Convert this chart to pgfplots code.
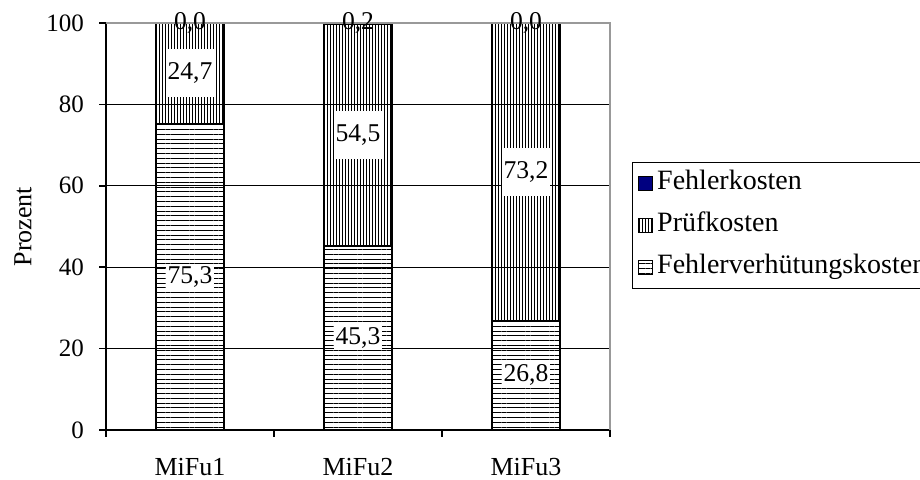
\documentclass[border=0pt]{standalone}
\usepackage{fontspec}
\setmainfont{Liberation Serif}
\usepackage{pgfplots}
\pgfplotsset{compat=1.18}
\usepackage{pgfplotstable}
\usetikzlibrary{patterns.meta}

\pgfplotstableread{
x vh
0 75.3
1 45.3
2 26.8
}\tabVerh
\pgfplotstableread{
x pr
0 24.7
1 54.5
2 73.2
}\tabPruef
\pgfplotstableread{
x fk
0 0.0
1 0.2
2 0.0
}\tabFehler
\pgfplotstableread{
x y label
0 87.65 24,7
1 72.55 54,5
2 63.4 73,2
}\tabLabTall
\pgfplotstableread{
x y label
0 37.65 75,3
1 22.65 45,3
2 13.4 26,8
}\tabLabShort
\pgfplotstableread{
x y label
0 100 0,0
1 100 0,2
2 100 0,0
}\tabLabZero

\definecolor{fknavy}{RGB}{0,0,128}
\tikzset{
  hpat/.style={pattern={Lines[angle=0,distance=2.4pt,line width=0.5pt]},pattern color=black},
  vpat/.style={pattern={Lines[angle=90,distance=1.5pt,line width=0.45pt]},pattern color=black},
}
\pgfplotsset{
  mylegend/.style={legend image code/.code={\draw[##1,draw=black,line width=0.6pt] (0pt,-3.6pt) rectangle (7.2pt,3.6pt);}},
  commonaxis/.style={
    at={(53pt,25pt)}, anchor=south west,
    scale only axis, width=252pt, height=203.5pt,
    xmin=-0.5, xmax=2.5, ymin=0, ymax=100,
  },
}

\begin{document}
\begin{tikzpicture}
\begin{scope}
\clip (0,0) rectangle (460pt,240pt);
\begin{axis}[
  commonaxis,
  ybar stacked, bar width=34pt,
  axis x line*=bottom, axis y line*=left,
  axis line style={black,line width=0.8pt},
  /pgf/number format/assume math mode=true,
  ytick={0,20,40,60,80,100},
  xtick={0,1,2}, xticklabels={MiFu1,MiFu2,MiFu3},
  minor xtick={-0.5,0.5,1.5,2.5},
  tick align=outside, major tick length=3.5pt, minor tick length=3.5pt,
  major x tick style={draw=none},
  minor x tick style={draw=black,line width=0.8pt},
  major y tick style={draw=black,line width=0.8pt},
  ymajorgrids, grid style={black,line width=0.5pt},
  xticklabel style={font=\fontsize{13}{15}\selectfont, yshift=-7pt},
  yticklabel style={font=\fontsize{12.5}{14}\selectfont, xshift=-4pt},
  ylabel={Prozent},
  ylabel style={font=\fontsize{13}{15}\selectfont, at={(axis description cs:-0.1647,0.5)}, anchor=center},
  reverse legend,
  legend cell align=left,
  legend style={at={(1.0437,0.6585)}, anchor=north west, draw=black, line width=0.6pt, fill=white,
    font=\fontsize{14}{16}\selectfont, inner sep=2.5pt, row sep=5pt,
    nodes={inner sep=2pt, text height=9pt, text depth=3pt}},
  clip=false,
]
\draw[gray!80, line width=0.8pt] (rel axis cs:0,1) -- (rel axis cs:1,1) -- (rel axis cs:1,0);
\addplot[hpat, draw=black, line width=1pt, mylegend] table[x=x,y=vh]{\tabVerh};
\addlegendentry{Fehlerverhütungskosten}
\addplot[vpat, draw=black, line width=1pt, mylegend] table[x=x,y=pr]{\tabPruef};
\addlegendentry{Prüfkosten}
\addplot[fill=fknavy, draw=black, line width=1pt, mylegend] table[x=x,y=fk]{\tabFehler};
\addlegendentry{Fehlerkosten}
\end{axis}
\begin{axis}[
  commonaxis, hide axis, clip=false,
  point meta=explicit symbolic,
  nodes near coords,
  every node near coord/.append style={anchor=center, font=\fontsize{12.8}{15}\selectfont, text=black},
]
\addplot[only marks, mark=none, nodes near coords style={fill=white, inner sep=1pt, minimum height=24pt, minimum width=24pt}] table[x=x,y=y,meta=label]{\tabLabTall};
\addplot[only marks, mark=none, nodes near coords style={fill=white, inner xsep=1pt, inner ysep=1pt}] table[x=x,y=y,meta=label]{\tabLabShort};
\addplot[only marks, mark=none, nodes near coords style={inner sep=1pt}] table[x=x,y=y,meta=label]{\tabLabZero};
\end{axis}
\end{scope}
\pgfresetboundingbox
\useasboundingbox (0,0) rectangle (460pt,240pt);
\end{tikzpicture}
\end{document}
